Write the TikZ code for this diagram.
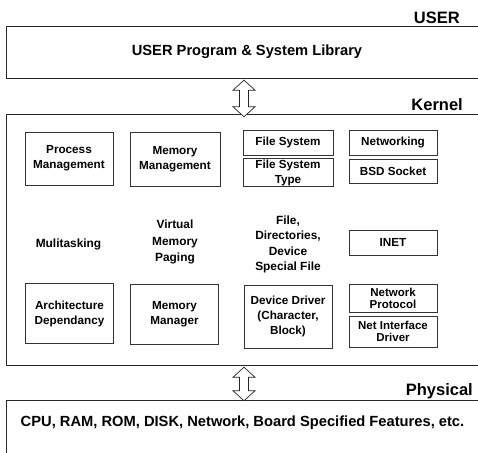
\documentclass[tikz,border=0pt]{standalone}
\usepackage{fontspec}
\setmainfont{Liberation Sans}
\usetikzlibrary{calc}

\tikzset{
  layer/.style={draw=none, inner sep=0pt},
  layerline/.style={draw=black!85, line width=0.9pt},
  layerlabel/.style={anchor=east, inner sep=0pt, font=\bfseries\fontsize{16.5}{18}\selectfont},
  bigtext/.style={inner sep=0pt, font=\bfseries\fontsize{14.7}{17}\selectfont},
  inbox/.style={draw=black!80, line width=0.7pt, align=center, inner sep=1pt,
    font=\bfseries\fontsize{11.7}{15}\selectfont},
  tightbox/.style={inbox, inner sep=0pt, font=\bfseries\fontsize{11.5}{12.5}\selectfont},
  freetext/.style={align=center, inner sep=0pt, font=\bfseries\fontsize{11.9}{15.5}\selectfont},
  bigarrow/.style={draw=black!85, line width=0.7pt, fill=white, line join=miter},
}

% hollow double-headed block arrow between two named points (top, bottom)
\newcommand{\linkarrow}[2]{%
  \path[bigarrow] let \p1=(#1), \p2=(#2) in
    (\x1,\y1) -- (\x1+11pt,\y1-10pt) -- (\x1+4.5pt,\y1-10pt) -- (\x1+4.5pt,\y2+10pt)
    -- (\x1+11pt,\y2+10pt) -- (\x1,\y2) -- (\x1-11pt,\y2+10pt) -- (\x1-4.5pt,\y2+10pt)
    -- (\x1-4.5pt,\y1-10pt) -- (\x1-11pt,\y1-10pt) -- cycle;}

\begin{document}
\begin{tikzpicture}[x=1pt, y=-1pt]
\useasboundingbox (0,0) rectangle (478,452);

% ---- layer frames (open on the right) ----
\node[layer, minimum width=475pt, minimum height=51pt] (user) at (244.5,52.5) {};
\node[layer, minimum width=475pt, minimum height=250pt] (kernel) at (244.5,240) {};
\node[layer, minimum width=475pt, minimum height=59pt] (phys) at (244.5,430.5) {};
\draw[layerline] (user.north east) -- (user.north west) -- (user.south west) -- (user.south east);
\draw[layerline] (kernel.north east) -- (kernel.north west) -- (kernel.south west) -- (kernel.south east);
\draw[layerline] (phys.north east) -- (phys.north west) -- (phys.south west);

% ---- layer titles ----
\node[layerlabel] (userlbl) at (460,18) {USER};
\node[layerlabel] (kernlbl) at (463,105) {Kernel};
\node[layerlabel] (physlbl) at (473,391) {Physical};

% ---- layer contents ----
\node[bigtext] (userprog) at (247,52) {USER Program \& System Library};
\node[bigtext] (hw) at (242.5,423) {CPU, RAM, ROM, DISK, Network, Board Specified Features, etc.};

% ---- kernel subsystems ----
% column 1
\node[inbox, minimum width=88pt, minimum height=53pt] (proc) at (69,158.5) {Process\\Management};
\node[freetext] (multi) at (68.5,244) {Mulitasking};
\node[inbox, minimum width=88pt, minimum height=60pt] (arch) at (69.5,313.5) {Architecture\\Dependancy};
% column 2
\node[inbox, minimum width=90pt, minimum height=54pt] (memmgmt) at (175,159) {Memory\\Management};
\node[freetext, font=\bfseries\fontsize{11.9}{16.5}\selectfont] (vmem) at (175,242) {Virtual\\Memory\\Paging};
\node[inbox, minimum width=88pt, minimum height=60pt] (memmgr) at (174.5,314) {Memory\\Manager};
% column 3
\node[inbox, minimum width=90pt, minimum height=25pt] (fs) at (288,142.5) {File System};
\node[inbox, minimum width=90pt, minimum height=27pt] (fstype) at (288,172.5) {File System\\Type};
\node[freetext] (files) at (288,244.5) {File,\\Directories,\\Device\\Special File};
\node[inbox, minimum width=88pt, minimum height=63pt] (devdrv) at (288,316.5) {Device Driver\\(Character,\\Block)};
% column 4
\node[inbox, minimum width=88pt, minimum height=25pt] (netw) at (393,142.5) {Networking};
\node[inbox, minimum width=88pt, minimum height=24pt] (bsd) at (393,171) {BSD Socket};
\node[inbox, minimum width=88pt, minimum height=25pt] (inet) at (393,242.5) {INET};
\node[tightbox, minimum width=88pt, minimum height=28pt] (netproto) at (393,298.5) {Network\\Protocol};
\node[tightbox, minimum width=88pt, minimum height=31pt] (netif) at (393,331.5) {Net Interface\\Driver};

% ---- links between layers ----
\coordinate (ukTop) at (user.south -| 244,0);
\coordinate (ukBot) at ($(kernel.north -| 244,0)+(0,2)$);
\coordinate (kpTop) at ($(kernel.south -| 244,0)+(0,2)$);
\coordinate (kpBot) at (phys.north -| 244,0);
\linkarrow{$(ukTop)+(0,2)$}{ukBot}
\linkarrow{kpTop}{kpBot}
\end{tikzpicture}
\end{document}
